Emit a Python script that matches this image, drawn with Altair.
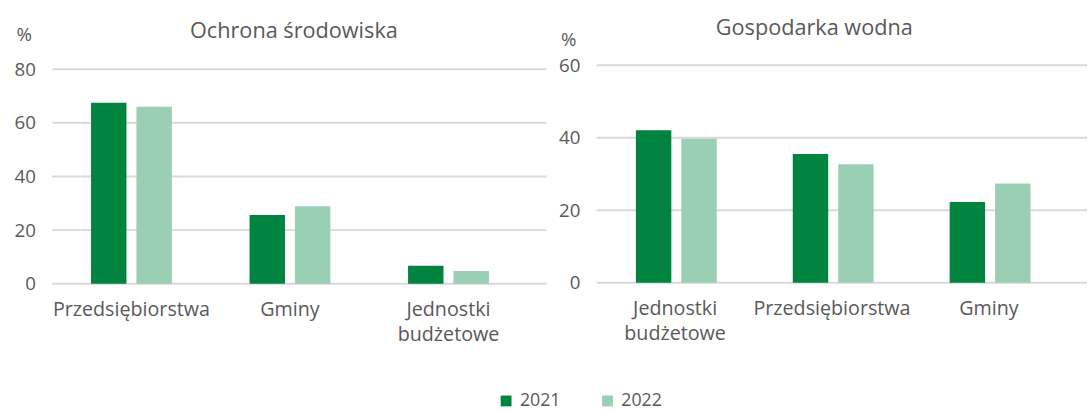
import altair as alt
import pandas as pd

# Shares (%) by type of investor, 2021 vs 2022
years = ["2021", "2022"]

env_categories = ["Przedsiębiorstwa", "Gminy", "Jednostki budżetowe"]
env_2021 = [67.5, 25.6, 6.7]
env_2022 = [66.0, 28.9, 4.8]
env_ticks = [0, 20, 40, 60, 80]

water_categories = ["Jednostki budżetowe", "Przedsiębiorstwa", "Gminy"]
water_2021 = [42.1, 35.5, 22.3]
water_2022 = [39.7, 32.7, 27.4]
water_ticks = [0, 20, 40, 60]

FONT = "Open Sans"
TEXT = "#595959"
GRID = "#D9D9D9"
DARK = "#00843F"
LIGHT = "#99CFB3"


def long_table(categories, v2021, v2022):
    rows = []
    for cat, a, b in zip(categories, v2021, v2022):
        rows.append({"kategoria": cat, "rok": "2021", "udzial": a})
        rows.append({"kategoria": cat, "rok": "2022", "udzial": b})
    return pd.DataFrame(rows)


def panel(title, categories, v2021, v2022, ticks, y_top, width, height,
          band_pad, title_offset, title_dx, pct_y, grid_extra):
    data = long_table(categories, v2021, v2022)
    y_scale = alt.Scale(domain=[0, y_top], nice=False, zero=True)
    y_axis = alt.Axis(
        values=ticks, grid=False, ticks=False, domain=False,
        labelFontSize=19, labelColor=TEXT, labelFont=FONT, labelPadding=17,
        title="%", titleAngle=0, titleAlign="center", titleBaseline="alphabetic",
        titleX=-29, titleY=pct_y, titleFontSize=19, titleFontWeight="normal",
        titleColor=TEXT, titleFont=FONT,
    )

    grid = alt.Chart(pd.DataFrame({"udzial": ticks})).mark_rule(
        color=GRID, strokeWidth=2
    ).encode(
        y=alt.Y("udzial:Q", scale=y_scale, axis=y_axis),
        x=alt.value(0),
        x2=alt.value(width + grid_extra),
    )

    bars = alt.Chart(data).mark_bar().encode(
        x=alt.X(
            "kategoria:N", sort=categories,
            scale=alt.Scale(paddingInner=band_pad, paddingOuter=band_pad / 2),
            axis=alt.Axis(
                title=None, labelAngle=0, ticks=False, domain=False,
                labelExpr="split(datum.label, ' ')",
                labelFontSize=20, labelColor=TEXT, labelFont=FONT,
                labelPadding=16, labelLineHeight=26,
            ),
        ),
        xOffset=alt.XOffset("rok:N", scale=alt.Scale(paddingInner=0.22, paddingOuter=0)),
        y=alt.Y("udzial:Q", scale=y_scale, axis=y_axis),
        color=alt.Color(
            "rok:N",
            scale=alt.Scale(domain=years, range=[DARK, LIGHT]),
            legend=alt.Legend(
                title=None, orient="none", legendX=452, legendY=332,
                direction="horizontal", symbolType="square", symbolSize=121,
                symbolStrokeWidth=0, labelFontSize=18, labelColor=TEXT,
                labelFont=FONT, columnPadding=38, labelOffset=5, padding=0,
            ),
        ),
    )

    return alt.layer(grid, bars).properties(
        width=width,
        height=height,
        title=alt.Title(
            title, fontSize=22, font=FONT, color=TEXT, fontWeight="normal",
            anchor="middle", frame="group", offset=title_offset, dx=title_dx,
        ),
    )


# The left axis runs a little past 80 so that its 80 line sits below the 60 line on the right
left = panel("Ochrona środowiska", env_categories, env_2021, env_2022, env_ticks,
             y_top=80 * 222 / 218, width=483, height=222, band_pad=0.49,
             title_offset=-17, title_dx=4, pct_y=-25, grid_extra=19)
right = panel("Gospodarka wodna", water_categories, water_2021, water_2022, water_ticks,
              y_top=60, width=478, height=221, band_pad=0.50,
              title_offset=-9, title_dx=-18, pct_y=-20, grid_extra=20)

chart = alt.hconcat(left, right, spacing=11).properties(
    padding={"left": 14, "top": 14, "right": 0, "bottom": 0}
).configure_view(stroke=None)

chart.save("out.html", embed_options={"renderer": "svg", "actions": False})
